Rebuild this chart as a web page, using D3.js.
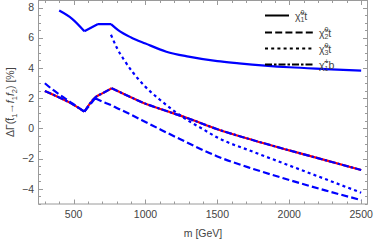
<!DOCTYPE html>
<html><head><meta charset="utf-8">
<script src="https://cdn.jsdelivr.net/npm/d3@7"></script>
<style>
html,body{margin:0;padding:0;background:#fff;}
text{font-family:"Liberation Sans",Arial,sans-serif;}
</style></head>
<body><svg id="c" width="374" height="241"></svg>
<script>
// ---- data ----
const mSolid = [400, 490, 575, 670, 760, 810, 900, 1000, 1145, 1300, 1500, 1650, 2000, 2250, 2500];
const vSolid = [7.8, 7.25, 6.43, 6.91, 6.91, 6.51, 6.02, 5.62, 5.08, 4.75, 4.45, 4.31, 4.05, 3.93, 3.82];
const kinkSolid = [575, 670, 760];

const mDashed = [300, 350, 400, 450, 500, 575, 650, 720, 760, 800, 880, 1000, 1110, 1250, 1500, 1750, 2000, 2250, 2500];
const vDashed = [2.99, 2.6, 2.25, 1.92, 1.6, 1.11, 2.0, 1.7, 1.55, 1.36, 1.0, 0.43, -0.1, -0.75, -1.85, -2.68, -3.41, -4.1, -4.74];
const kinkDashed = [575, 650];

const mDotted = [760, 800, 850, 913, 1000, 1100, 1200, 1300, 1400, 1500, 1750, 2000, 2250, 2500];
const vDotted = [6.2, 5.35, 4.55, 3.7, 2.75, 1.9, 1.15, 0.5, -0.05, -0.6, -1.55, -2.45, -3.35, -4.25];
const kinkDotted = [];

const mCharg = [300, 400, 483, 575, 650, 700, 765, 850, 1000, 1110, 1295, 1500, 1750, 2000, 2250, 2500];
const vCharg = [2.48, 2.05, 1.66, 1.11, 2.05, 2.32, 2.66, 2.28, 1.64, 1.27, 0.67, -0.05, -0.78, -1.45, -2.1, -2.75];
const kinkCharg = [575, 765];

const xMajor = [500, 1000, 1500, 2000, 2500];
const yMajor = [-4, -2, 0, 2, 4, 6, 8];
const legendSub = ["1", "2", "3", "1"];
const legendSup = ["0", "0", "0", "+"];
const legendTail = ["t", "t", "t", "b"];

// ---- layout ----
const svg = d3.select("#c");
const L = 38.5, R = 367.5, T = 0.5, B = 204;
const x = d3.scaleLinear().domain([256, 2544]).range([L, R]);
const y = d3.scaleLinear().domain([-5, 8.5]).range([B, 0]);
const frameCol = "#9a9a9a", labCol = "#444";
const BLUE = "#0000ff", RED = "#ff0000";

// frame
svg.append("rect").attr("x", L).attr("y", T).attr("width", R - L).attr("height", B - T)
  .attr("fill", "none").attr("stroke", frameCol).attr("stroke-width", 1);

// ticks
const xMinor = d3.range(300, 2501, 100).filter(v => !xMajor.includes(v));
const yMinor = d3.range(-5, 8.51, 0.5).filter(v => !yMajor.includes(v));
const tg = svg.append("g").attr("stroke", frameCol).attr("stroke-width", 1);
function xt(vals, len) {
  vals.forEach(v => {
    const px = Math.round(x(v)) + 0.5;
    tg.append("line").attr("x1", px).attr("x2", px).attr("y1", B).attr("y2", B - len);
    tg.append("line").attr("x1", px).attr("x2", px).attr("y1", T).attr("y2", T + len);
  });
}
function yt(vals, len) {
  vals.forEach(v => {
    const py = Math.round(y(v)) + 0.5;
    tg.append("line").attr("y1", py).attr("y2", py).attr("x1", L).attr("x2", L + len);
    tg.append("line").attr("y1", py).attr("y2", py).attr("x1", R).attr("x2", R - len);
  });
}
xt(xMajor, 4.5); xt(xMinor, 2.5);
yt(yMajor, 4.5); yt(yMinor, 2.5);

// tick labels
xMajor.forEach(v => svg.append("text").attr("x", x(v)).attr("y", 217.5)
  .attr("text-anchor", "middle").attr("font-size", 10.5).attr("fill", labCol).text(v));
yMajor.forEach(v => svg.append("text").attr("x", 34).attr("y", y(v) + 3.7)
  .attr("text-anchor", "end").attr("font-size", 10.5).attr("fill", labCol)
  .text(v < 0 ? "\u2212" + Math.abs(v) : v));

// axis titles
svg.append("text").attr("x", (L + R) / 2).attr("y", 237).attr("text-anchor", "middle")
  .attr("font-size", 10.5).attr("fill", labCol).text("m [GeV]");
const yl = svg.append("text").attr("transform", "translate(14," + ((T + B) / 2) + ") rotate(-90)")
  .attr("text-anchor", "middle").attr("font-size", 10.5).attr("fill", labCol);
yl.append("tspan").text("\u0394\u0393(t\u0303");
yl.append("tspan").attr("font-size", 7.5).attr("dy", 2.5).text("1");
yl.append("tspan").attr("dy", -2.5).text("\u2192");
yl.append("tspan").attr("font-style", "italic").text("f");
yl.append("tspan").attr("font-size", 7.5).attr("dy", 2.5).text("1");
yl.append("tspan").attr("font-style", "italic").attr("dy", -2.5).text("f");
yl.append("tspan").attr("font-size", 7.5).attr("dy", 2.5).text("2");
yl.append("tspan").attr("dy", -2.5).text(") [%]");

// curves
const clip = svg.append("clipPath").attr("id", "pc").append("rect")
  .attr("x", L).attr("y", T).attr("width", R - L).attr("height", B - T);
const plot = svg.append("g").attr("clip-path", "url(#pc)");
const lineGen = d3.line().x(d => x(d[0])).y(d => y(d[1])).curve(d3.curveMonotoneX);

function segments(ms, vs, kinks) {
  const pts = ms.map((m, i) => [m, vs[i]]);
  const segs = []; let cur = [];
  pts.forEach(p => {
    cur.push(p);
    if (kinks.includes(p[0])) { segs.push(cur); cur = [p]; }
  });
  if (cur.length > 1) segs.push(cur);
  return segs;
}
function lineStr(ms, vs, kinks) {
  return segments(ms, vs, kinks).map(s => lineGen(s)).join("");
}
function draw(ms, vs, kinks, color, dash) {
  plot.append("path").attr("d", lineStr(ms, vs, kinks)).attr("fill", "none")
    .attr("stroke", color).attr("stroke-width", 2.2)
    .attr("stroke-dasharray", dash).attr("stroke-linejoin", "round");
}
draw(mCharg, vCharg, kinkCharg, RED, null);
draw(mCharg, vCharg, kinkCharg, BLUE, "7,2,2.5,2");
draw(mDotted, vDotted, kinkDotted, BLUE, "3,3.2");
draw(mDashed, vDashed, kinkDashed, BLUE, "7,3.2");
draw(mSolid, vSolid, kinkSolid, BLUE, null);

// legend
const dashes = [null, "7,3.2", "3,3.2", "7,2,2.5,2"];
const rowY = [15.5, 32.5, 48.5, 64.5];
const lg = svg.append("g");
rowY.forEach((ry, i) => {
  const x2 = i === 0 ? 289 : 313;
  lg.append("line").attr("x1", 265).attr("x2", x2).attr("y1", ry).attr("y2", ry)
    .attr("stroke", "#000").attr("stroke-width", 2).attr("stroke-dasharray", dashes[i]);
  const tx = lg.append("text").attr("x", x2 + 6).attr("y", ry + 4)
    .attr("font-size", 10.5).attr("fill", labCol);
  tx.append("tspan").text("\u03c7\u0303");
  tx.append("tspan").attr("font-size", 7).attr("dy", 2.5).text(legendSub[i]);
  tx.append("tspan").attr("font-size", 7).attr("dx", -4).attr("dy", -7).text(legendSup[i]);
  tx.append("tspan").attr("dy", 4.5).text(legendTail[i]);
});
</script></body></html>
